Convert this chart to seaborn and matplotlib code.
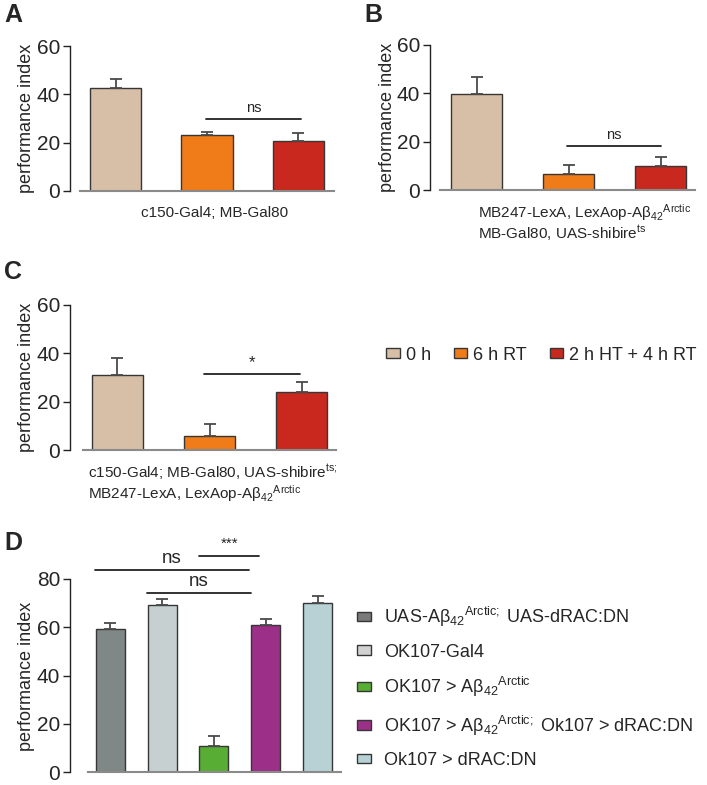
import numpy as np
import matplotlib
matplotlib.use("Agg")
import matplotlib.pyplot as plt
import matplotlib.patches as mpatches
import seaborn as sns

# ---- data ----
time_groups = ["0 h", "6 h RT", "2 h HT + 4 h RT"]
time_colors = ["#d6bfa6", "#ef7b19", "#c8281d"]

a_means = [42.5, 23.0, 20.6]
a_errs = [4.0, 1.3, 3.2]

b_means = [39.6, 6.6, 10.0]
b_errs = [7.0, 3.7, 3.5]

c_means = [30.9, 5.8, 24.0]
c_errs = [7.0, 5.1, 4.0]

d_groups = [
    "UAS-Aβ$_{42}$$^{\\mathrm{Arctic;}}$ UAS-dRAC:DN",
    "OK107-Gal4",
    "OK107 > Aβ$_{42}$$^{\\mathrm{Arctic}}$",
    "OK107 > Aβ$_{42}$$^{\\mathrm{Arctic;}}$ Ok107 > dRAC:DN",
    "Ok107 > dRAC:DN",
]
d_colors = ["#808887", "#c6d0d0", "#58ad34", "#9c2f88", "#b7d1d4"]
d_legend_colors = ["#7a7a7a", "#d2d2d2", "#58ad34", "#9c2f88", "#b7d1d4"]
d_means = [59.1, 69.3, 10.6, 60.9, 70.2]
d_errs = [2.7, 2.4, 4.3, 2.6, 2.8]

W, H = 707, 785
EDGE = "#363636"

sns.set_style("ticks")
plt.rcParams["font.family"] = ["Liberation Sans", "DejaVu Sans"]
plt.rcParams["mathtext.fontset"] = "custom"
plt.rcParams["mathtext.rm"] = "Liberation Sans"
plt.rcParams["mathtext.it"] = "Liberation Sans:italic"
plt.rcParams["mathtext.bf"] = "Liberation Sans:bold"

fig = plt.figure(figsize=(W / 100, H / 100), dpi=100)


def px_axes(left, right, top, bottom):
    return fig.add_axes([left / W, 1 - bottom / H, (right - left) / W, (bottom - top) / H])


def fx(x):
    return x / W


def fy(y):
    return 1 - y / H


def bar_panel(ax, cats, means, errs, colors, ymax, yticks, xlim, width, spine_off):
    sns.barplot(x=cats, y=means, hue=cats, palette=colors, legend=False,
                errorbar=None, width=width, edgecolor=EDGE, linewidth=1.0,
                saturation=1, order=cats, hue_order=cats, ax=ax)
    n = len(means)
    ax.errorbar(np.arange(n), means, yerr=[np.zeros(n), errs], fmt="none",
                ecolor="#4a4a4a", elinewidth=1.3, capsize=4, capthick=1.3, zorder=5)
    ax.set_ylim(0, ymax)
    ax.set_xlim(*xlim)
    ax.set_yticks(yticks)
    ax.set_xticks([])
    ax.set_xlabel("")
    ax.set_ylabel("")
    ax.tick_params(axis="y", labelsize=15, length=5, width=1, color="#222222", pad=2)
    for s in ["top", "right"]:
        ax.spines[s].set_visible(False)
    ax.spines["left"].set_position(("outward", spine_off * 0.72))
    ax.spines["left"].set_bounds(0, ymax)
    ax.spines["left"].set_color("#222222")
    ax.spines["left"].set_linewidth(1.0)
    ax.spines["bottom"].set_color("#8a8a8a")
    ax.spines["bottom"].set_linewidth(1.5)
    ax.set_facecolor("none")


def sig_line(ax, x0, x1, y, label, size, dy):
    ax.plot([x0, x1], [y, y], color="#222222", lw=1.3, clip_on=False)
    ax.text((x0 + x1) / 2, y + dy, label, ha="center", va="bottom", fontsize=size,
            clip_on=False)


# ---- Panel A ----
axA = px_axes(80, 334, 46, 191)
bar_panel(axA, time_groups, a_means, a_errs, time_colors, 60, [0, 20, 40, 60],
          (-0.39, 2.39), 0.56, 10)
sig_line(axA, 0.99, 2.03, 30, "ns", 10.5, 1.5)
fig.text(fx(215), fy(213), "c150-Gal4; MB-Gal80", ha="center", va="center", fontsize=11)
fig.text(fx(27), fy(118), "performance index", rotation=90, ha="center", va="center", fontsize=13)
fig.text(fx(13), fy(15), "A", ha="center", va="center", fontsize=18, fontweight="bold")

# ---- Panel B ----
axB = px_axes(440, 695, 45, 190)
bar_panel(axB, time_groups, b_means, b_errs, time_colors, 60, [0, 20, 40, 60],
          (-0.40, 2.37), 0.555, 10)
sig_line(axB, 0.98, 2.0, 18.2, "ns", 10.5, 1.5)
fig.text(fx(478), fy(213), "MB247-LexA, LexAop-Aβ$_{42}$$^{\\mathrm{Arctic}}$", ha="left",
         va="center", fontsize=11)
fig.text(fx(478), fy(233), "MB-Gal80, UAS-shibire$^{\\mathrm{ts}}$", ha="left",
         va="center", fontsize=11)
fig.text(fx(387), fy(117), "performance index", rotation=90, ha="center", va="center", fontsize=13)
fig.text(fx(373), fy(15), "B", ha="center", va="center", fontsize=18, fontweight="bold")

# ---- Panel C ----
axC = px_axes(83, 336, 305, 450)
bar_panel(axC, time_groups, c_means, c_errs, time_colors, 60, [0, 20, 40, 60],
          (-0.37, 2.37), 0.555, 13)
sig_line(axC, 0.94, 1.98, 31.4, "*", 12, 1.5)
fig.text(fx(88), fy(472), "c150-Gal4; MB-Gal80, UAS-shibire$^{\\mathrm{ts;}}$", ha="left",
         va="center", fontsize=11)
fig.text(fx(88), fy(494), "MB247-LexA, LexAop-Aβ$_{42}$$^{\\mathrm{Arctic}}$", ha="left",
         va="center", fontsize=11)
fig.text(fx(27), fy(377), "performance index", rotation=90, ha="center", va="center", fontsize=13)
fig.text(fx(13), fy(272), "C", ha="center", va="center", fontsize=18, fontweight="bold")

time_handles = [mpatches.Patch(facecolor=c, edgecolor=EDGE, linewidth=1.0, label=g)
                for g, c in zip(time_groups, time_colors)]
fig.legend(handles=time_handles, loc="center left", bbox_to_anchor=(fx(386), fy(355)),
           ncol=3, frameon=False, fontsize=13, handlelength=0.75, handleheight=0.45,
           handletextpad=0.35, columnspacing=1.25, borderpad=0, borderaxespad=0)

# ---- Panel D ----
axD = px_axes(88, 341, 579, 772)
bar_panel(axD, d_groups, d_means, d_errs, d_colors, 80, [0, 20, 40, 60, 80],
          (-0.43, 4.45), 0.56, 18)
sig_line(axD, -0.3, 2.67, 83.9, "ns", 13.5, 1.2)
sig_line(axD, 0.7, 2.72, 74.4, "ns", 13.5, 1.2)
sig_line(axD, 1.72, 2.87, 89.7, "***", 11, 2.0)
fig.text(fx(27), fy(676), "performance index", rotation=90, ha="center", va="center", fontsize=13)
fig.text(fx(13), fy(543), "D", ha="center", va="center", fontsize=18, fontweight="bold")

d_handles = [mpatches.Patch(facecolor=c, edgecolor=EDGE, linewidth=1.0, label=g)
             for g, c in zip(d_groups, d_legend_colors)]
fig.legend(handles=d_handles, loc="center left", bbox_to_anchor=(fx(357), fy(687)),
           ncol=1, frameon=False, fontsize=13, handlelength=0.8, handleheight=0.45,
           handletextpad=0.7, labelspacing=0.8, borderpad=0, borderaxespad=0)

fig.savefig("out.png", dpi=100, facecolor="white")
